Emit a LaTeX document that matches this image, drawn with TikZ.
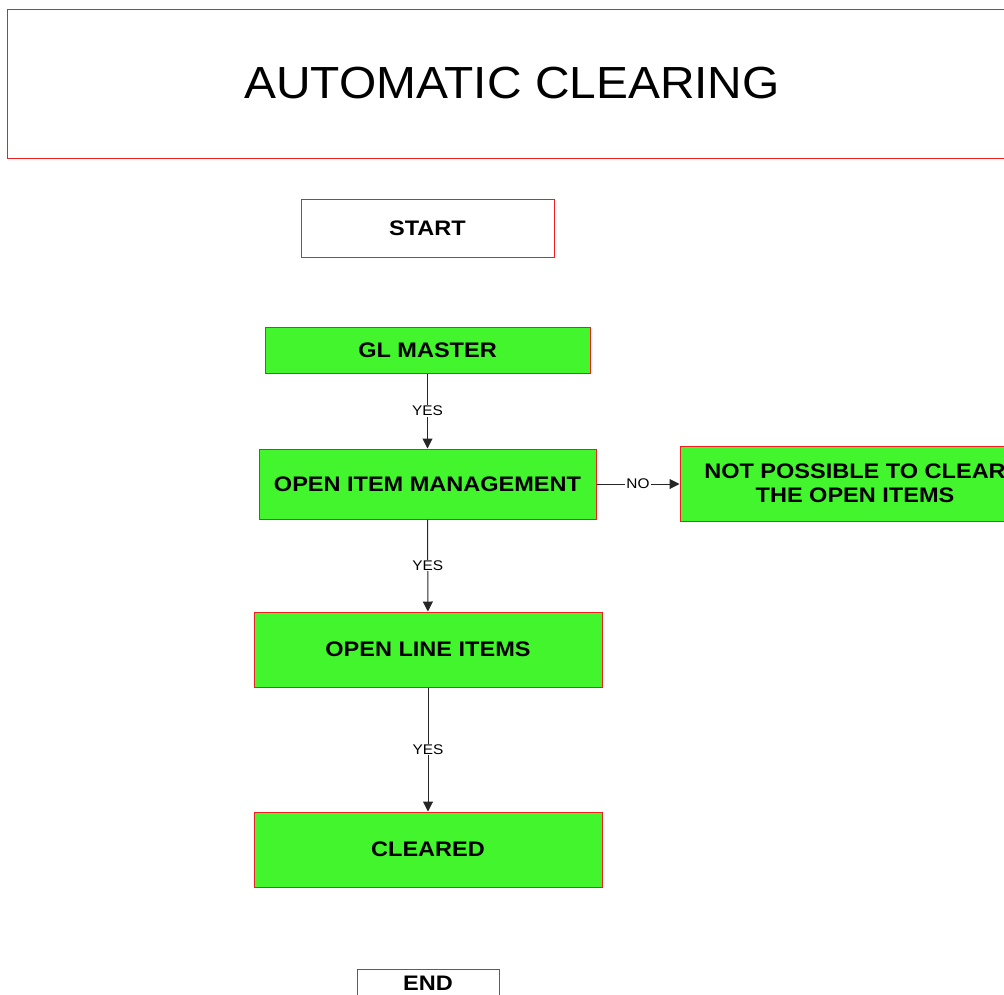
\documentclass[tikz,border=0pt]{standalone}
\usepackage{fontspec}
\setmainfont{Liberation Sans}
\newfontfamily\widesans[FakeStretch=1.12]{Liberation Sans}
\newfontfamily\titlesans[FakeStretch=1.064]{Liberation Sans}
\newfontfamily\labelsans[FakeStretch=1.1]{Liberation Sans}
\usetikzlibrary{arrows.meta}
\definecolor{boxred}{RGB}{240,30,30}
\definecolor{boxgreen}{RGB}{66,245,44}
\tikzset{
  plainbox/.style={draw=boxred, line width=1pt, fill=white, inner sep=0pt},
  boxfont/.style={font=\widesans\fontsize{21}{23.5}\selectfont\bfseries},
  greenbox/.style={draw=boxred, line width=1pt, fill=boxgreen, inner sep=0pt,
    boxfont, align=center},
  flow/.style={draw=black!85, line width=1pt, -{Triangle[length=10pt,width=10pt]}},
  flowlabel/.style={fill=white, inner sep=1pt, font=\labelsans\fontsize{14}{16}\selectfont}
}
\begin{document}
\begin{tikzpicture}[x=1pt,y=-1pt]
\useasboundingbox (0,0) rectangle (1004,994);
\clip (0,0) rectangle (1004,994);
% title banner
\node[plainbox, minimum width=1010pt, minimum height=149pt,
      font=\titlesans\fontsize{45}{50}\selectfont] (title) at (512,83.5) {AUTOMATIC CLEARING};
% terminals
\node[plainbox, boxfont, minimum width=253pt, minimum height=58pt] (start) at (427.5,228) {START};
\node[plainbox, boxfont, minimum width=142pt, minimum height=28pt] (end) at (428,983) {END};
% process boxes
\node[greenbox, minimum width=325pt, minimum height=46pt] (gl) at (427.5,350) {GL MASTER};
\node[greenbox, minimum width=337pt, minimum height=70pt] (oim) at (427.5,484) {OPEN ITEM MANAGEMENT};
\node[greenbox, minimum width=350pt, minimum height=75pt] (nop) at (855,483.5) {NOT POSSIBLE TO CLEAR\\THE OPEN ITEMS};
\node[greenbox, minimum width=348pt, minimum height=75pt] (oli) at (428,649.5) {OPEN LINE ITEMS};
\node[greenbox, minimum width=348pt, minimum height=75pt] (clr) at (428,849.5) {CLEARED};
% connectors
\draw[flow] (gl) -- node[flowlabel] {YES} (oim);
\draw[flow] (oim) -- node[flowlabel] {YES} (oli);
\draw[flow] (oli) -- node[flowlabel] {YES} (clr);
\draw[flow] (oim.east) -- node[flowlabel, pos=0.5] {NO} (oim.east -| nop.west);
\end{tikzpicture}
\end{document}
